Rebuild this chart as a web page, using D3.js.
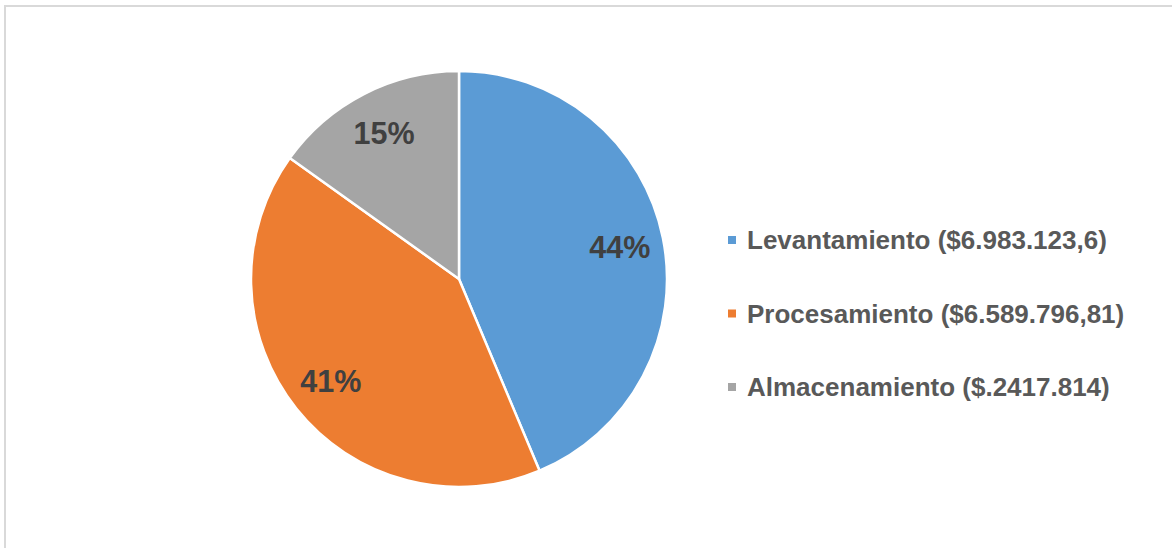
<!DOCTYPE html>
<html>
<head>
<meta charset="utf-8">
<script src="https://cdn.jsdelivr.net/npm/d3@7"></script>
<style>
  html, body { margin: 0; padding: 0; background: #ffffff; }
  svg { display: block; }
</style>
</head>
<body>
<svg id="chart" width="1172" height="548"></svg>
<script>
// Cost breakdown by project phase
const categories = ["Levantamiento", "Procesamiento", "Almacenamiento"];
const values = [6983123.6, 6589796.81, 2417814];
const legendLabels = [
  "Levantamiento ($6.983.123,6)",
  "Procesamiento ($6.589.796,81)",
  "Almacenamiento ($.2417.814)"
];
const colors = ["#5B9BD5", "#ED7D31", "#A5A5A5"];

const svg = d3.select("#chart");

// Chart area frame
svg.append("rect")
  .attr("x", 5).attr("y", 6)
  .attr("width", 1180).attr("height", 560)
  .attr("fill", "#ffffff")
  .attr("stroke", "#d9d9d9")
  .attr("stroke-width", 2);

const cx = 459, cy = 279, radius = 208;
const data = categories.map((c, i) => ({ name: c, value: values[i], label: legendLabels[i] }));
const total = d3.sum(values);

const pie = d3.pie().value(d => d.value).sort(null);
const arcs = pie(data);
const arc = d3.arc().innerRadius(0).outerRadius(radius);
const labelArc = d3.arc().innerRadius(164).outerRadius(164);

const color = d3.scaleOrdinal().domain(categories).range(colors);

const g = svg.append("g").attr("transform", `translate(${cx},${cy})`);

g.selectAll("path.slice")
  .data(arcs)
  .join("path")
  .attr("class", "slice")
  .attr("d", arc)
  .attr("fill", d => color(d.data.name))
  .attr("stroke", "#ffffff")
  .attr("stroke-width", 2.5)
  .attr("stroke-linejoin", "round");

g.selectAll("text.pct")
  .data(arcs)
  .join("text")
  .attr("class", "pct")
  .attr("transform", d => `translate(${labelArc.centroid(d)})`)
  .attr("text-anchor", "middle")
  .attr("dy", "0.36em")
  .attr("font-family", "Liberation Sans, Arial, sans-serif")
  .attr("font-weight", "bold")
  .attr("font-size", 30.5)
  .attr("fill", "#404040")
  .text(d => d3.format(".0%")(d.data.value / total));

// Legend
const legend = svg.append("g").attr("transform", "translate(728,240)");
const rowGap = 73.5;
const rows = legend.selectAll("g.row")
  .data(data)
  .join("g")
  .attr("class", "row")
  .attr("transform", (d, i) => `translate(0,${i * rowGap})`);

rows.append("rect")
  .attr("x", 0).attr("y", -4)
  .attr("width", 8).attr("height", 8)
  .attr("fill", d => color(d.name));

rows.append("text")
  .attr("x", 19)
  .attr("dy", "0.36em")
  .attr("font-family", "Liberation Sans, Arial, sans-serif")
  .attr("font-weight", "bold")
  .attr("font-size", 26)
  .attr("fill", "#595959")
  .text(d => d.label);
</script>
</body>
</html>
